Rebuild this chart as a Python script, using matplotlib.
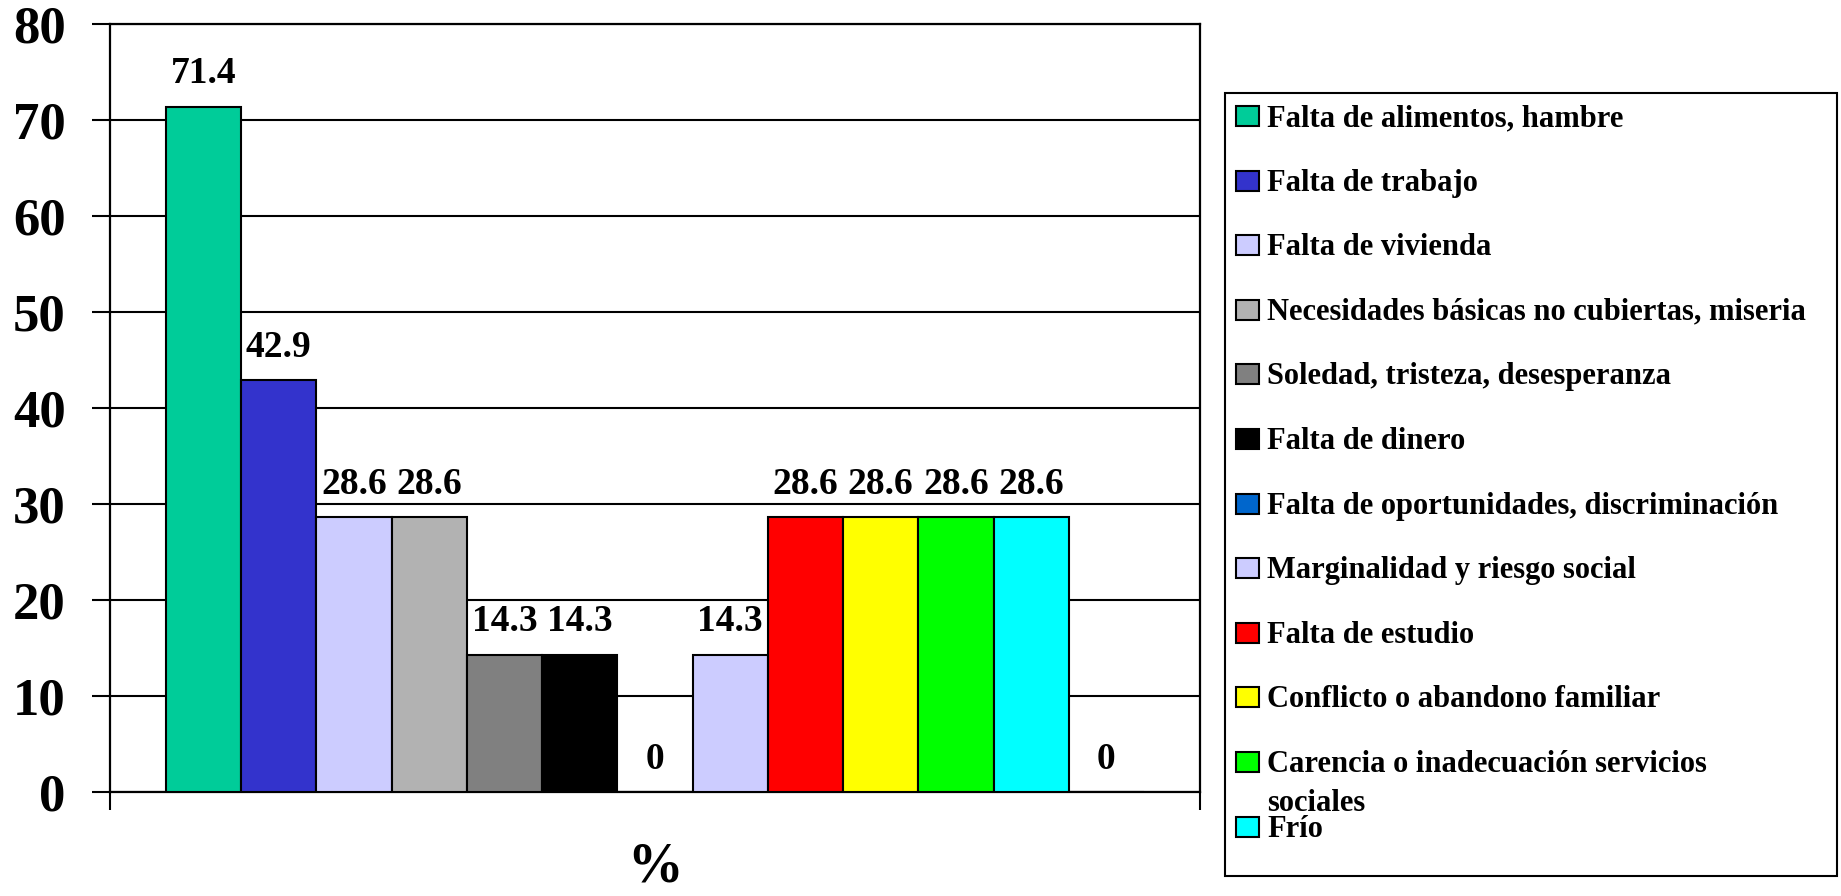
import matplotlib
matplotlib.use("Agg")
import matplotlib.pyplot as plt
from matplotlib.patches import Rectangle

plt.rcParams['font.family'] = ['Liberation Serif', 'DejaVu Serif']
plt.rcParams['font.weight'] = 'bold'

# datos (%)
valores = [71.4, 42.9, 28.6, 28.6, 14.3, 14.3, 0, 14.3, 28.6, 28.6, 28.6, 28.6, 0]
colores = ['#00CC99', '#3333CC', '#CCCCFF', '#B2B2B2', '#808080', '#000000',
           '#0066CC', '#CCCCFF', '#FF0000', '#FFFF00', '#00FF00', '#00FFFF', '#FFFFFF']
# la leyenda original solo deja ver 12 entradas
nombres = ['Falta de alimentos, hambre',
           'Falta de trabajo',
           'Falta de vivienda',
           'Necesidades básicas no cubiertas, miseria',
           'Soledad, tristeza, desesperanza',
           'Falta de dinero',
           'Falta de oportunidades, discriminación',
           'Marginalidad y riesgo social',
           'Falta de estudio',
           'Conflicto o abandono familiar',
           'Carencia o inadecuación servicios\nsociales',
           'Frío']
yticks = [0, 10, 20, 30, 40, 50, 60, 70, 80]

W, H = 1841, 896
fig = plt.figure(figsize=(W / 100, H / 100), dpi=100)
ax = fig.add_axes([110 / W, 1 - 792 / H, 1090 / W, 768 / H])

x = list(range(len(valores)))
barras = ax.bar(x, valores, width=1.0, color=colores, edgecolor='black',
                linewidth=1.5, zorder=3)
ax.bar_label(barras, fmt='%g', padding=11, fontsize=27, fontweight='bold')

margen = 56 / 75.2
ax.set_xlim(-0.5 - margen, len(valores) - 0.5 + margen)
ax.set_ylim(0, 80)
ax.set_yticks(yticks)
ax.set_xticks([-0.5 - margen, len(valores) - 0.5 + margen])
ax.set_xticklabels(['', ''])
ax.grid(axis='y', color='black', linewidth=1.5, zorder=0)
ax.set_axisbelow(True)
for s in ax.spines.values():
    s.set_linewidth(1.6)
ax.tick_params(axis='both', direction='out', length=13, width=1.5)
ax.tick_params(axis='y', labelsize=38, pad=19)
for t in ax.get_yticklabels():
    t.set_fontweight('bold')

ax.set_xlabel('%', fontsize=40, fontweight='bold')
ax.xaxis.set_label_coords(0.5, -0.064)

# leyenda dibujada a mano (espaciado fijo como en el original)
tf = fig.transFigure
fig.add_artist(Rectangle((1225 / W, 1 - 876 / H), 612 / W, 783 / H,
                         transform=tf, fill=False, edgecolor='black', linewidth=1.5))
y0, paso, interlinea = 116, 64.6, 39
for i, nombre in enumerate(nombres):
    yc = y0 + i * paso
    fig.add_artist(Rectangle((1236 / W, 1 - (yc + 10) / H), 23 / W, 20 / H,
                             transform=tf, facecolor=colores[i],
                             edgecolor='black', linewidth=1.5))
    for k, linea in enumerate(nombre.split('\n')):
        fig.text(1267 / W, 1 - (yc + 10 + k * interlinea) / H, linea,
                 fontsize=22, fontweight='bold', va='baseline', ha='left')

fig.savefig('out.png', dpi=100)
